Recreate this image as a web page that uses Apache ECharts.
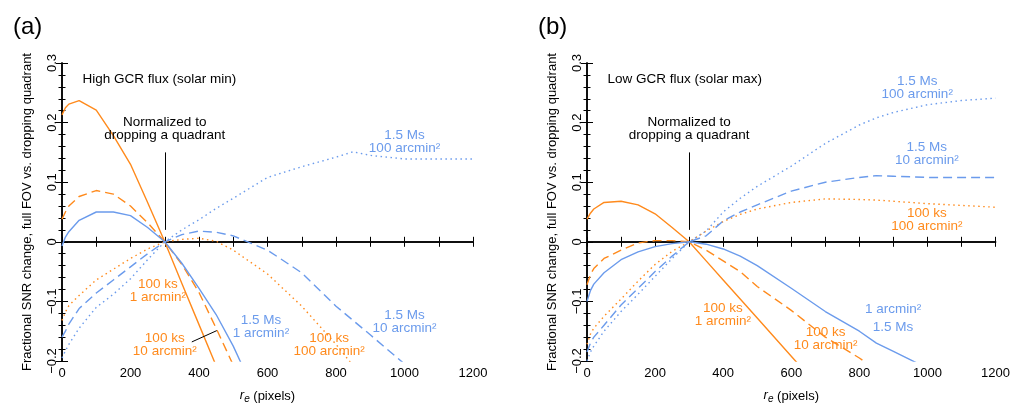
<!DOCTYPE html>
<html>
<head>
<meta charset="utf-8">
<script src="https://cdn.jsdelivr.net/npm/echarts@6/dist/echarts.min.js"></script>
<style>
  html, body { margin: 0; padding: 0; background: #fff; }
  #snr { width: 1013px; height: 409px; }
</style>
</head>
<body>
<div id="snr"></div>
<script>
// extraction radius r_e (pixels), shared by every curve
const rValues = [0, 10, 20, 50, 100, 150, 200, 250, 300, 350, 400, 450, 500, 600, 700, 800, 850, 900, 1000, 1100, 1200]

// (a) high GCR flux (solar min)
const minKs1 = [0.213, 0.225, 0.231, 0.237, 0.221, 0.178, 0.13, 0.066, 0, -0.07, -0.139, -0.208, -0.28, null, null, null, null, null, null, null, null]
const minKs10 = [0.038, 0.05, 0.06, 0.076, 0.086, 0.08, 0.06, 0.032, 0, -0.038, -0.085, -0.145, -0.207, -0.33, null, null, null, null, null, null, null]
const minKs100 = [-0.132, -0.118, -0.107, -0.09, -0.064, -0.046, -0.028, -0.012, 0, 0.004, 0.006, 0.001, -0.014, -0.054, -0.108, -0.172, -0.208, -0.25, null, null, null]
const minMs1 = [-0.007, 0.008, 0.017, 0.036, 0.05, 0.05, 0.044, 0.024, 0, -0.036, -0.078, -0.122, -0.175, -0.3, null, null, null, null, null, null, null]
const minMs10 = [-0.16, -0.15, -0.138, -0.112, -0.086, -0.064, -0.042, -0.02, 0, 0.012, 0.018, 0.016, 0.01, -0.014, -0.052, -0.108, -0.132, -0.156, -0.205, -0.26, null]
const minMs100 = [-0.195, -0.183, -0.172, -0.145, -0.11, -0.088, -0.062, -0.03, 0, 0.02, 0.037, 0.056, 0.073, 0.108, 0.126, 0.142, 0.151, 0.145, 0.139, 0.139, 0.139]

// (b) low GCR flux (solar max)
const maxKs1 = [0.038, 0.048, 0.055, 0.066, 0.068, 0.062, 0.047, 0.024, 0, -0.032, -0.064, -0.096, -0.128, -0.192, -0.256, null, null, null, null, null, null]
const maxKs10 = [-0.072, -0.055, -0.045, -0.028, -0.014, -0.002, 0.002, 0.002, 0, -0.014, -0.032, -0.05, -0.075, -0.115, -0.16, -0.195, -0.215, null, null, null, null]
const maxKs100 = [-0.172, -0.155, -0.145, -0.125, -0.096, -0.066, -0.038, -0.016, 0, 0.018, 0.034, 0.046, 0.055, 0.066, 0.072, 0.071, 0.07, 0.068, 0.064, 0.061, 0.058]
const maxMs1 = [-0.1, -0.082, -0.071, -0.052, -0.03, -0.017, -0.008, -0.003, 0, -0.004, -0.012, -0.024, -0.04, -0.078, -0.117, -0.15, -0.17, -0.184, -0.212, null, null]
const maxMs10 = [-0.185, -0.17, -0.16, -0.14, -0.106, -0.078, -0.05, -0.024, 0, 0.01, 0.035, 0.05, 0.062, 0.085, 0.1, 0.108, 0.111, 0.11, 0.108, 0.108, 0.108]
const maxMs100 = [-0.2, -0.185, -0.175, -0.15, -0.117, -0.088, -0.058, -0.028, 0, 0.018, 0.05, 0.073, 0.093, 0.127, 0.165, 0.196, 0.208, 0.217, 0.23, 0.237, 0.241]

const xTicks = [0, 200, 400, 600, 800, 1000, 1200]
const yTicks = [-0.2, -0.1, 0, 0.1, 0.2, 0.3]

// text annotations, in data coordinates of each panel
const notesA = [
  { text: 'Normalized to\ndropping a quadrant', x: 300, y: 0.189, color: '#000' },
  { text: '1.5 Ms\n100 arcmin²', x: 1000, y: 0.167, color: 'blue' },
  { text: '1.5 Ms\n10 arcmin²', x: 1000, y: -0.134, color: 'blue' },
  { text: '100 ks\n1 arcmin²', x: 280, y: -0.083, color: 'orange' },
  { text: '100 ks\n10 arcmin²', x: 300, y: -0.173, color: 'orange' },
  { text: '1.5 Ms\n1 arcmin²', x: 581, y: -0.143, color: 'blue' },
  { text: '100 ks\n100 arcmin²', x: 780, y: -0.173, color: 'orange' }
]
const notesB = [
  { text: 'Normalized to\ndropping a quadrant', x: 300, y: 0.189, color: '#000' },
  { text: '1.5 Ms\n100 arcmin²', x: 970, y: 0.258, color: 'blue' },
  { text: '1.5 Ms\n10 arcmin²', x: 998, y: 0.147, color: 'blue' },
  { text: '100 ks\n100 arcmin²', x: 998, y: 0.037, color: 'orange' },
  { text: '1 arcmin²', x: 899, y: -0.114, color: 'blue' },
  { text: '1.5 Ms', x: 899, y: -0.144, color: 'blue' },
  { text: '100 ks\n10 arcmin²', x: 701, y: -0.163, color: 'orange' },
  { text: '100 ks\n1 arcmin²', x: 399, y: -0.123, color: 'orange' }
]

const ORANGE = '#ff8a1c'
const BLUE = '#6b9bec'
const FONT = 'Liberation Sans, Arial, Helvetica, sans-serif'
const colors = { orange: ORANGE, blue: BLUE, '#000': '#000' }
const SOLID = 'solid'
const DASHED = [9, 5]
const DOTTED = [1.5, 3.5]

function pts(ys) {
  const out = []
  rValues.forEach((x, i) => { if (ys[i] !== null) out.push([x, ys[i]]) })
  return out
}

function curve(ys, color, dash, g) {
  return {
    type: 'line',
    xAxisIndex: g * 2,
    yAxisIndex: g * 2,
    data: pts(ys),
    symbol: 'none',
    silent: true,
    lineStyle: { color: color, width: 1.4, type: dash }
  }
}

function yFmt(v) {
  const r = Math.round(v * 10) / 10
  if (r === 0) return '0'
  return r.toFixed(1).replace('-', '\u2212')
}

function xAxes(g) {
  const line = { lineStyle: { color: '#000', width: 1.5 } }
  return [
    {
      type: 'value', gridIndex: g, position: 'bottom', min: 0, max: 1200, interval: 100,
      axisLine: line,
      axisTick: { inside: true, length: 5, lineStyle: { color: '#000' } },
      axisLabel: {
        color: '#000', fontSize: 13, fontFamily: FONT, margin: 6,
        formatter: v => xTicks.indexOf(v) >= 0 ? String(v) : ''
      },
      splitLine: { show: false },
      name: '{i|r}{s|e} (pixels)',
      nameLocation: 'middle',
      nameGap: 28,
      nameTextStyle: {
        color: '#000', fontSize: 13, fontFamily: FONT, verticalAlign: 'top',
        rich: {
          i: { fontStyle: 'italic', fontSize: 13, fontFamily: FONT, color: '#000', verticalAlign: 'top' },
          s: { fontStyle: 'italic', fontSize: 10, fontFamily: FONT, color: '#000', verticalAlign: 'top', padding: [5, 0, 0, 0] }
        }
      }
    },
    {
      type: 'value', gridIndex: g, position: 'top', min: 0, max: 1200, interval: 100,
      axisLine: line,
      axisTick: { inside: true, length: 5, lineStyle: { color: '#000' } },
      axisLabel: { show: false },
      splitLine: { show: false }
    }
  ]
}

function yAxes(g) {
  const line = { lineStyle: { color: '#000', width: 1.5 } }
  const base = {
    type: 'value', gridIndex: g, min: -0.2, max: 0.3, interval: 0.1,
    axisLine: line,
    axisTick: { inside: true, length: 6, lineStyle: { color: '#000' } },
    minorTick: { show: true, splitNumber: 5, length: 3.5, lineStyle: { color: '#000' } },
    splitLine: { show: false }
  }
  return [
    Object.assign({}, base, {
      position: 'left',
      axisLabel: { color: '#000', fontSize: 13, fontFamily: FONT, rotate: 90, margin: 3, formatter: yFmt },
      name: 'Fractional SNR change, full FOV vs. dropping quadrant',
      nameLocation: 'middle',
      nameRotate: 90,
      nameGap: 28,
      nameTextStyle: { color: '#000', fontSize: 13, fontFamily: FONT }
    }),
    Object.assign({}, base, { position: 'right', axisLabel: { show: false } })
  ]
}

function refLines(g, leader) {
  const data = [
    [{ yAxis: 0, lineStyle: { type: [1, 2], width: 1 } }, { yAxis: 0 }],
    [{ coord: [300, 0.02], lineStyle: { type: 'solid', width: 1 } }, { coord: [300, 0.15] }]
  ]
  if (leader) data.push([{ coord: [379, -0.168], lineStyle: { type: 'solid', width: 1 } }, { coord: [452, -0.149] }])
  return {
    type: 'line', xAxisIndex: g * 2, yAxisIndex: g * 2, data: [], silent: true,
    markLine: {
      silent: true, animation: false, symbol: ['none', 'none'],
      label: { show: false },
      lineStyle: { color: '#000' },
      data: data
    }
  }
}

const chart = echarts.init(document.getElementById('snr'))
chart.setOption({
  animation: false,
  textStyle: { fontFamily: FONT },
  title: [
    { text: '(a)', left: 8, top: 10, textStyle: { fontSize: 24, fontWeight: 'normal', color: '#000', fontFamily: FONT } },
    { text: '(b)', left: 533, top: 10, textStyle: { fontSize: 24, fontWeight: 'normal', color: '#000', fontFamily: FONT } }
  ],
  grid: [
    { left: 62, top: 63, width: 411, height: 305 },
    { left: 587, top: 63, width: 411, height: 305 }
  ],
  xAxis: xAxes(0).concat(xAxes(1)),
  yAxis: yAxes(0).concat(yAxes(1)),
  series: [
    refLines(0, true),
    curve(minKs1, ORANGE, SOLID, 0),
    curve(minKs10, ORANGE, DASHED, 0),
    curve(minKs100, ORANGE, DOTTED, 0),
    curve(minMs1, BLUE, SOLID, 0),
    curve(minMs10, BLUE, DASHED, 0),
    curve(minMs100, BLUE, DOTTED, 0),
    refLines(1, false),
    curve(maxKs1, ORANGE, SOLID, 1),
    curve(maxKs10, ORANGE, DASHED, 1),
    curve(maxKs100, ORANGE, DOTTED, 1),
    curve(maxMs1, BLUE, SOLID, 1),
    curve(maxMs10, BLUE, DASHED, 1),
    curve(maxMs100, BLUE, DOTTED, 1)
  ]
})

// panel captions and curve labels placed through the axes
function noteText(n, g) {
  const p = chart.convertToPixel({ gridIndex: g }, [n.x, n.y])
  return {
    type: 'text', x: p[0], y: p[1], silent: true, z: 10,
    style: {
      text: n.text, fill: colors[n.color], fontSize: 13.5, fontFamily: FONT,
      align: 'center', verticalAlign: 'middle', lineHeight: 13
    }
  }
}
function caption(text, g) {
  const p = chart.convertToPixel({ gridIndex: g }, [60, 0.272])
  return {
    type: 'text', x: p[0], y: p[1], silent: true, z: 10,
    style: { text: text, fill: '#000', fontSize: 13.5, fontFamily: FONT, align: 'left', verticalAlign: 'middle' }
  }
}
const graphics = [caption('High GCR flux (solar min)', 0), caption('Low GCR flux (solar max)', 1)]
notesA.forEach(n => graphics.push(noteText(n, 0)))
notesB.forEach(n => graphics.push(noteText(n, 1)))
chart.setOption({ graphic: graphics })
</script>
</body>
</html>
